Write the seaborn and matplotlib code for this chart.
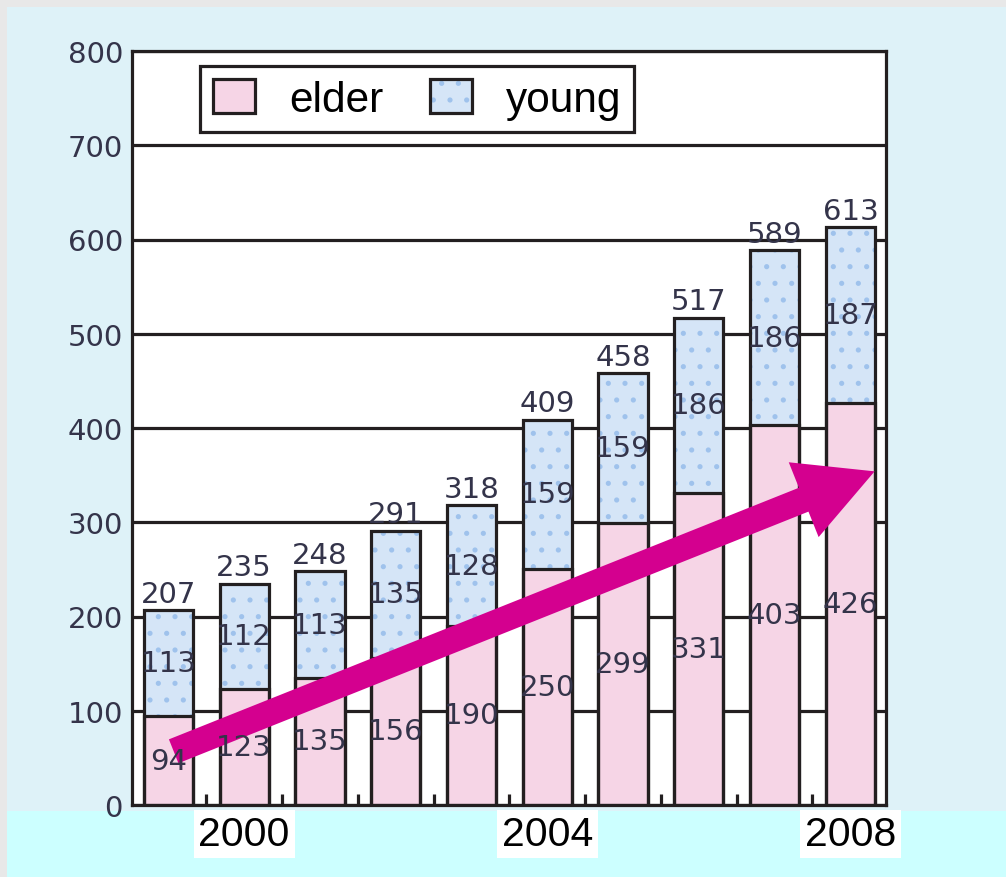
import matplotlib
matplotlib.use("Agg")
import matplotlib.pyplot as plt
import seaborn as sns
import pandas as pd
from matplotlib.patches import Rectangle, Patch
from matplotlib.legend_handler import HandlerTuple

# ---- data -------------------------------------------------------------
years = [1999, 2000, 2001, 2002, 2003, 2004, 2005, 2006, 2007, 2008]
elder = [94, 123, 135, 156, 190, 250, 299, 331, 403, 426]
young = [113, 112, 113, 135, 128, 159, 159, 186, 186, 187]
year_ticks = [2000, 2004, 2008]
y_ticks = [0, 100, 200, 300, 400, 500, 600, 700, 800]
series_names = ["elder", "young"]

total = [e + y for e, y in zip(elder, young)]
df = pd.DataFrame({"year": [str(y) for y in years],
                   "elder": elder, "young": young, "total": total})

# ---- style --------------------------------------------------------------
INK = "#231f20"
PINK = "#f6d5e6"
BLUE = "#d5e5f7"
DOT = "#9fc2ec"
MAGENTA = "#d4008f"
NUM = "#34344a"
LW = 2.3
BAR_W = 0.65

sns.set_theme(style="white")
plt.rcParams["font.family"] = ["Liberation Sans", "DejaVu Sans"]
plt.rcParams["hatch.linewidth"] = 1.3

fig = plt.figure(figsize=(10.06, 8.78), dpi=100, facecolor="#e8e8e8")
W, H = 1006, 878
# light cyan panel and the brighter strip under the axis
fig.patches.append(Rectangle((7 / W, (H - 812) / H), 1 - 7 / W, (812 - 8) / H,
                             transform=fig.transFigure, facecolor="#def2f8",
                             edgecolor="none", zorder=-10))
fig.patches.append(Rectangle((7 / W, 0), 1 - 7 / W, (H - 812) / H,
                             transform=fig.transFigure, facecolor="#ccffff",
                             edgecolor="none", zorder=-10))

ax = fig.add_axes([132 / W, (H - 806) / H, 754 / W, 754 / H])
ax.set_facecolor("white")

# young part: dotted fill of the full stack
sns.barplot(data=df, x="year", y="total", color=BLUE, saturation=1,
            width=BAR_W, edgecolor=DOT, linewidth=0, hatch=".", ax=ax,
            zorder=2)
# elder part
sns.barplot(data=df, x="year", y="elder", color=PINK, saturation=1,
            width=BAR_W, edgecolor=INK, linewidth=LW, ax=ax, zorder=3)
# outline of the full stack
sns.barplot(data=df, x="year", y="total", color=INK, fill=False,
            width=BAR_W, edgecolor=INK, linewidth=LW, ax=ax, zorder=4)

# axes, grid, ticks
ax.set_ylim(0, 800)
ax.set_xlim(-0.48, len(years) - 0.53)
ax.set_yticks(y_ticks)
ax.set_yticklabels([str(v) for v in y_ticks], family="DejaVu Sans",
                   fontsize=21, color=NUM)
ax.tick_params(axis="y", length=0, pad=6.5)
ax.set_axisbelow(True)
ax.grid(axis="y", color=INK, linewidth=LW)
ax.grid(axis="x", visible=False)
for s in ax.spines.values():
    s.set_visible(True)
    s.set_color(INK)
    s.set_linewidth(LW)

ax.set_xticks([years.index(y) for y in year_ticks])
ax.set_xticklabels([str(y) for y in year_ticks], fontsize=29.5, color="black")
ax.set_xticks([i + 0.5 for i in range(len(years) - 1)], minor=True)
ax.tick_params(axis="x", which="major", length=0, pad=7)
ax.tick_params(axis="x", which="minor", bottom=True, direction="in",
               length=8, width=LW, color=INK)
for lab in ax.get_xticklabels():
    lab.set_bbox(dict(facecolor="white", edgecolor="none", pad=3.5))
ax.set_xlabel("")
ax.set_ylabel("")

# growth arrow
ax.annotate("", xy=(9.32, 354), xytext=(0.07, 57),
            arrowprops=dict(arrowstyle="simple,head_length=5.5,head_width=5.8,tail_width=1.85",
                            mutation_scale=10, facecolor=MAGENTA,
                            edgecolor="none", shrinkA=0, shrinkB=0),
            zorder=5)

# value labels
num_kw = dict(family="DejaVu Sans", fontsize=21, color=NUM, ha="center",
              zorder=6)
for i, (e, y, t) in enumerate(zip(elder, young, total)):
    ax.annotate(str(t), xy=(i, t), xytext=(0, 6), textcoords="offset points",
                va="baseline", **num_kw)
    ax.text(i, e / 2, str(e), va="center", **num_kw)
    ax.text(i, e + y / 2, str(y), va="center", **num_kw)

# legend
h_elder = Patch(facecolor=PINK, edgecolor=INK, linewidth=LW)
h_young = (Patch(facecolor=BLUE, edgecolor=DOT, linewidth=0, hatch="."),
           Patch(facecolor="none", edgecolor=INK, linewidth=LW))
leg = ax.legend([h_elder, h_young], series_names,
                handler_map={tuple: HandlerTuple(ndivide=1, pad=0)},
                loc="center", bbox_to_anchor=(0.378, 0.9357), ncol=2,
                fontsize=30.5, handlelength=1.0, handleheight=0.85,
                handletextpad=0.8, columnspacing=1.1, borderpad=0.3,
                fancybox=False, framealpha=1, edgecolor=INK,
                labelcolor="black")
leg.get_frame().set_linewidth(LW)
leg.set_zorder(7)

fig.savefig("out.png", dpi=100, facecolor=fig.get_facecolor())
